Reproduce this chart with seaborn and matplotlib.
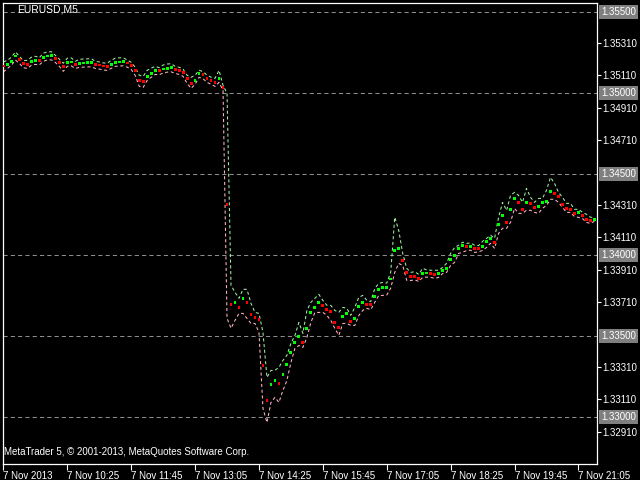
import numpy as np
import pandas as pd
import matplotlib
matplotlib.use("Agg")
import matplotlib.pyplot as plt
import matplotlib.transforms as mtransforms
import seaborn as sns

# ---- data (EURUSD M5, 7 Nov 2013, bars from 09:05) ----
mid = [1.35167, 1.35177, 1.35196, 1.35229, 1.35208, 1.35181, 1.35177, 1.35196, 1.35202, 1.35199,
       1.35221, 1.35229, 1.35230, 1.35214, 1.35190, 1.35165, 1.35190, 1.35192, 1.35177, 1.35183,
       1.35185, 1.35186, 1.35187, 1.35177, 1.35173, 1.35167, 1.35165, 1.35177, 1.35190, 1.35192,
       1.35193, 1.35185, 1.35171, 1.35140, 1.35079, 1.35072, 1.35103, 1.35122, 1.35140, 1.35138,
       1.35148, 1.35154, 1.35156, 1.35146, 1.35140, 1.35128, 1.35091, 1.35060, 1.35079, 1.35122,
       1.35113, 1.35091, 1.35079, 1.35066, 1.35091, 1.35035, 1.34314, 1.33697, 1.33709, 1.33678,
       1.33734, 1.33709, 1.33635, 1.33616, 1.33604, 1.33320, 1.33104, 1.33203, 1.33228, 1.33209,
       1.33265, 1.33326, 1.33400, 1.33462, 1.33499, 1.33462, 1.33548, 1.33647, 1.33678, 1.33709,
       1.33690, 1.33666, 1.33653, 1.33585, 1.33555, 1.33622, 1.33641, 1.33592, 1.33610, 1.33684,
       1.33709, 1.33697, 1.33695, 1.33746, 1.33789, 1.33801, 1.33803, 1.33853, 1.34030, 1.34042,
       1.33968, 1.33894, 1.33869, 1.33867, 1.33857, 1.33888, 1.33890, 1.33888, 1.33882, 1.33888,
       1.33906, 1.33919, 1.33974, 1.33999, 1.34042, 1.34061, 1.34054, 1.34056, 1.34042, 1.34040,
       1.34054, 1.34085, 1.34104, 1.34079, 1.34190, 1.34246, 1.34202, 1.34283, 1.34351, 1.34326,
       1.34283, 1.34326, 1.34320, 1.34295, 1.34301, 1.34326, 1.34332, 1.34394, 1.34382, 1.34363,
       1.34314, 1.34289, 1.34283, 1.34258, 1.34264, 1.34246, 1.34221, 1.34215, 1.34221]

# distance of the upper / lower band from the middle line, in points (0.00001)
upper_pts = [25, 25, 25, 25, 19, 19, 25, 25, 25, 19,
             25, 25, 25, 19, 19, 19, 25, 25, 19, 25,
             25, 25, 25, 19, 19, 19, 19, 25, 25, 25,
             25, 19, 19, 19, 31, 31, 37, 31, 25, 19,
             25, 25, 25, 19, 19, 19, 19, 37, 31, 19,
             19, 19, 19, 25, 49, 12, 685, 117, 62, 56,
             56, 80, 68, 31, 37, 204, 142, 86, 62, 99,
             86, 56, 56, 43, 86, 56, 111, 62, 56, 49,
             31, 25, 37, 74, 93, 56, 31, 37, 68, 56,
             43, 25, 19, 49, 37, 31, 25, 43, 204, 111,
             43, 25, 25, 31, 25, 31, 19, 19, 25, 19,
             19, 31, 37, 49, 19, 19, 19, 19, 19, 19,
             31, 19, 19, 25, 43, 80, 74, 86, 37, 43,
             43, 86, 37, 31, 49, 25, 68, 86, 62, 25,
             43, 31, 37, 25, 19, 19, 31, 19, 12]
lower_pts = [37, 25, 25, 25, 25, 25, 25, 25, 25, 25,
             25, 25, 25, 25, 25, 31, 25, 25, 25, 25,
             25, 25, 25, 25, 25, 25, 25, 25, 25, 25,
             25, 25, 25, 31, 37, 37, 25, 25, 25, 25,
             25, 25, 25, 25, 25, 25, 31, 31, 25, 25,
             25, 25, 25, 25, 25, 19, 703, 148, 111, 37,
             93, 99, 56, 37, 80, 265, 136, 111, 105, 117,
             99, 99, 62, 37, 56, 31, 56, 62, 31, 62,
             43, 37, 56, 37, 49, 43, 62, 25, 43, 56,
             49, 25, 31, 37, 37, 49, 49, 56, 136, 93,
             31, 49, 25, 19, 19, 25, 25, 25, 25, 25,
             19, 25, 37, 43, 31, 43, 25, 25, 25, 19,
             25, 37, 31, 37, 56, 80, 37, 80, 62, 68,
             25, 49, 43, 31, 43, 37, 25, 49, 37, 37,
             19, 25, 19, 19, 31, 19, 19, 19, 12]

time_labels = ["7 Nov 2013", "7 Nov 10:25", "7 Nov 11:45", "7 Nov 13:05", "7 Nov 14:25",
               "7 Nov 15:45", "7 Nov 17:05", "7 Nov 18:25", "7 Nov 19:45", "7 Nov 21:05"]
label_bars = [0, 16, 32, 48, 64, 80, 96, 112, 128, 144]
grid_levels = [1.35500, 1.35000, 1.34500, 1.34000, 1.33500, 1.33000]
tick_levels = [1.32910, 1.33110, 1.33310, 1.33710, 1.33910, 1.34110, 1.34310,
               1.34710, 1.34910, 1.35110, 1.35310]
symbol_text = "EURUSD,M5"
footer_text = "MetaTrader 5, \u00a9 2001-2013, MetaQuotes Software Corp."

# ---- table ----
n = len(mid)
df = pd.DataFrame({"bar": np.arange(n), "mid": mid})
df["upper"] = df["mid"] + np.array(upper_pts) * 1e-5
df["lower"] = df["mid"] - np.array(lower_pts) * 1e-5
d = df["mid"].diff()
df["dir"] = np.where(d > 0, "up", "down")

# ---- style ----
sns.set_style("dark")
plt.rcParams["font.family"] = ["Liberation Sans", "DejaVu Sans"]
FS = 7

fig = plt.figure(figsize=(6.4, 4.8), dpi=100, facecolor="black")
ax = fig.add_axes([3 / 640, 16 / 480, 594 / 640, 461 / 480])
ax.set_facecolor("black")

for lv in grid_levels:
    ax.axhline(lv, color="#8c8c8c", lw=0.75, linestyle=(0, (4, 3)), zorder=1)

sns.lineplot(data=df, x="bar", y="upper", ax=ax, color="#a0f0a0", lw=0.75,
             linestyle=(0, (3, 2.5)), zorder=2)
sns.lineplot(data=df, x="bar", y="lower", ax=ax, color="#ffb6c1", lw=0.75,
             linestyle=(0, (3, 2.5)), zorder=2)
sns.scatterplot(data=df, x="bar", y="mid", hue="dir", ax=ax,
                palette={"up": "#00ff00", "down": "#ff0000"}, marker="s", s=4.2,
                linewidth=0, legend=False, zorder=3)

ax.set_xlim(-0.1, 148.65)
ax.set_ylim(1.32712, 1.355555)
ax.set_xlabel("")
ax.set_ylabel("")
ax.grid(False)

for sp in ax.spines.values():
    sp.set_color("white")
    sp.set_linewidth(0.9)
    sp.set_visible(True)

ax.yaxis.tick_right()
ax.set_yticks(tick_levels)
ax.set_yticklabels([f"{v:.5f}" for v in tick_levels])
ax.tick_params(axis="y", colors="white", labelcolor="white", length=3, width=0.8,
               labelsize=FS, pad=1, right=True, left=False, direction="out")
ax.set_xticks(label_bars)
ax.set_xticklabels(time_labels)
ax.tick_params(axis="x", colors="white", labelcolor="white", length=4, width=0.8,
               labelsize=FS, pad=1, bottom=True, direction="out")
for lab in ax.get_xticklabels():
    lab.set_horizontalalignment("left")

trans = mtransforms.blended_transform_factory(ax.transAxes, ax.transData)
for lv in grid_levels:
    ax.text(1.0 + 4 / 594, lv, f"{lv:.5f}", transform=trans, ha="left", va="center",
            fontsize=FS, color="white", clip_on=False,
            bbox=dict(boxstyle="square,pad=0.2", fc="#7f7f7f", ec="none"))

fig.text(17 / 640, 1 - 4 / 480, symbol_text, color="white", fontsize=FS + 0.5,
         ha="left", va="top")
fig.text(4 / 640, 1 - 452 / 480, footer_text, color="white", fontsize=FS,
         ha="left", va="center")

fig.savefig("out.png", dpi=100, facecolor="black")
